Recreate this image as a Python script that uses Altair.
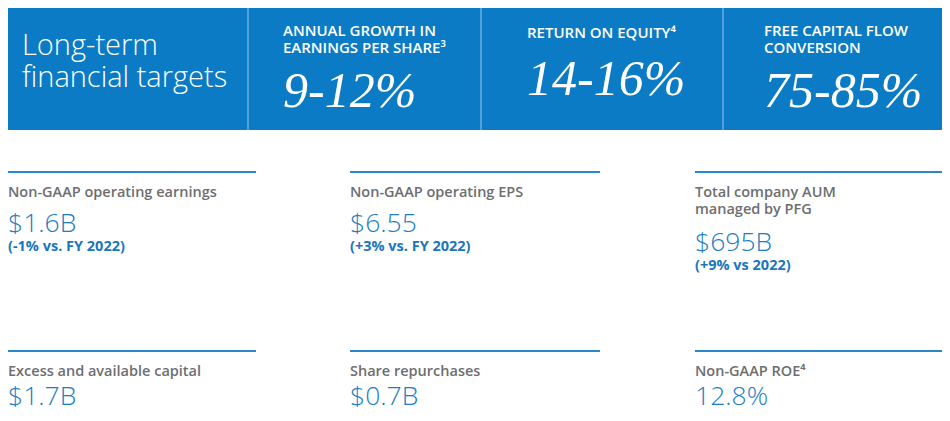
import altair as alt
import pandas as pd

# ---------------- data ----------------
banner_title = ["Long-term", "financial targets"]
target_headers = [["ANNUAL GROWTH IN", "EARNINGS PER SHARE³"],
                  ["RETURN ON EQUITY⁴"],
                  ["FREE CAPITAL FLOW", "CONVERSION"]]
target_values = ["9-12%", "14-16%", "75-85%"]

kpi_labels = [["Non-GAAP operating earnings"],
              ["Non-GAAP operating EPS"],
              ["Total company AUM", "managed by PFG"],
              ["Excess and available capital"],
              ["Share repurchases"],
              ["Non-GAAP ROE⁴"]]
kpi_values = ["$1.6B", "$6.55", "$695B", "$1.7B", "$0.7B", "12.8%"]
kpi_notes = ["(-1% vs. FY 2022)", "(+3% vs. FY 2022)", "(+9% vs 2022)", "", "", ""]
kpi_col = [0, 1, 2, 0, 1, 2]
kpi_row = [0, 0, 0, 1, 1, 1]

# ---------------- layout (page coordinates) ----------------
PAGE_W, PAGE_H, MARGIN = 950, 421, 8
X0, X1 = MARGIN, PAGE_W - MARGIN      # visible page span for the chart
Y0, Y1 = MARGIN, PAGE_H - MARGIN
BANNER_H = 130
DIVIDERS = [248, 481, 723]
TITLE_X, TITLE_Y, TITLE_LH = 22, 55, 32
TARGET_X = [283, 527, 764]
COL_X = [8, 350, 695]
COL_END = [256, 600, 942]
ROW_LINE_Y = [172, 351]
LABEL_DY, LABEL_LH = 25, 17
VALUE_DY, EXTRA_DY = 60, 19
NOTE_GAP = 19
BOTTOM_SAFE = Y1 - 8

BLUE = "#0A7BC4"
DIV = "#6AAEE0"
LINE = "#2A86C8"
GRAY = "#6D6E71"
VBLUE = "#1F7EC3"
NBLUE = "#1A76BD"

xs = alt.Scale(domain=[X0, X1], range=[0, X1 - X0], nice=False, zero=False)
ys = alt.Scale(domain=[Y0, Y1], range=[0, Y1 - Y0], nice=False, zero=False)


def X(f):
    return alt.X(f, type="quantitative", scale=xs, axis=None)


def Y(f):
    return alt.Y(f, type="quantitative", scale=ys, axis=None)


banner_df = pd.DataFrame({"x0": [0], "x1": [PAGE_W], "y0": [0], "y1": [BANNER_H]})
div_df = pd.DataFrame({"x": DIVIDERS, "y0": [0] * 3, "y1": [BANNER_H] * 3})
title_df = pd.DataFrame({"x": [TITLE_X], "y": [TITLE_Y], "t": ["\n".join(banner_title)]})

hdr_y = [36 if len(h) > 1 else 38 for h in target_headers]
tv_y = [107 if len(h) > 1 else 95 for h in target_headers]
hdr_df = pd.DataFrame({"x": TARGET_X, "y": hdr_y, "t": ["\n".join(h) for h in target_headers]})
tv_df = pd.DataFrame({"x": TARGET_X, "y": tv_y, "t": target_values})

line_df = pd.DataFrame({
    "x": [COL_X[c] for c in kpi_col],
    "x2": [COL_END[c] for c in kpi_col],
    "y": [ROW_LINE_Y[r] for r in kpi_row],
})
lab_df = pd.DataFrame({
    "x": [COL_X[c] for c in kpi_col],
    "y": [ROW_LINE_Y[r] + LABEL_DY for r in kpi_row],
    "t": ["\n".join(l) for l in kpi_labels],
})
val_y = [min(ROW_LINE_Y[r] + VALUE_DY + EXTRA_DY * (len(l) - 1), BOTTOM_SAFE)
         for r, l in zip(kpi_row, kpi_labels)]
val_df = pd.DataFrame({"x": [COL_X[c] for c in kpi_col], "y": val_y, "t": kpi_values})
note_df = pd.DataFrame({"x": [COL_X[c] for c in kpi_col], "y": [v + NOTE_GAP for v in val_y], "t": kpi_notes})
note_df = note_df[note_df["t"] != ""]

banner = alt.Chart(banner_df).mark_rect(color=BLUE, clip=True).encode(x=X("x0"), x2="x1", y=Y("y0"), y2="y1")
dividers = alt.Chart(div_df).mark_rule(color=DIV, strokeWidth=1.5).encode(x=X("x"), y=Y("y0"), y2="y1")
title = alt.Chart(title_df).mark_text(
    align="left", baseline="alphabetic", font="Open Sans", fontSize=29, fontWeight=300,
    color="white", lineBreak="\n", lineHeight=TITLE_LH
).encode(x=X("x"), y=Y("y"), text="t")
headers = alt.Chart(hdr_df).mark_text(
    align="left", baseline="alphabetic", font="Open Sans", fontSize=15, fontWeight=600,
    color="white", lineBreak="\n", lineHeight=17
).encode(x=X("x"), y=Y("y"), text="t")
tvals = alt.Chart(tv_df).mark_text(
    align="left", baseline="alphabetic", font="Liberation Serif", fontSize=50, fontStyle="italic",
    color="white"
).encode(x=X("x"), y=Y("y"), text="t")

lines = alt.Chart(line_df).mark_rule(color=LINE, strokeWidth=2).encode(x=X("x"), x2="x2", y=Y("y"))
labels = alt.Chart(lab_df).mark_text(
    align="left", baseline="alphabetic", font="Open Sans", fontSize=14.5, fontWeight=600,
    color=GRAY, lineBreak="\n", lineHeight=LABEL_LH
).encode(x=X("x"), y=Y("y"), text="t")
values = alt.Chart(val_df).mark_text(
    align="left", baseline="alphabetic", font="Open Sans", fontSize=26.5, fontWeight=300,
    color=VBLUE
).encode(x=X("x"), y=Y("y"), text="t")
notes = alt.Chart(note_df).mark_text(
    align="left", baseline="alphabetic", font="Open Sans", fontSize=14.5, fontWeight=700,
    color=NBLUE
).encode(x=X("x"), y=Y("y"), text="t")

chart = alt.layer(banner, dividers, title, headers, tvals, lines, labels, values, notes).properties(
    width=X1 - X0, height=Y1 - Y0, padding=0,
    autosize=alt.AutoSizeParams(type="none"),
).configure_view(stroke=None)

chart.save("out.html", embed_options={"renderer": "svg", "actions": False})
